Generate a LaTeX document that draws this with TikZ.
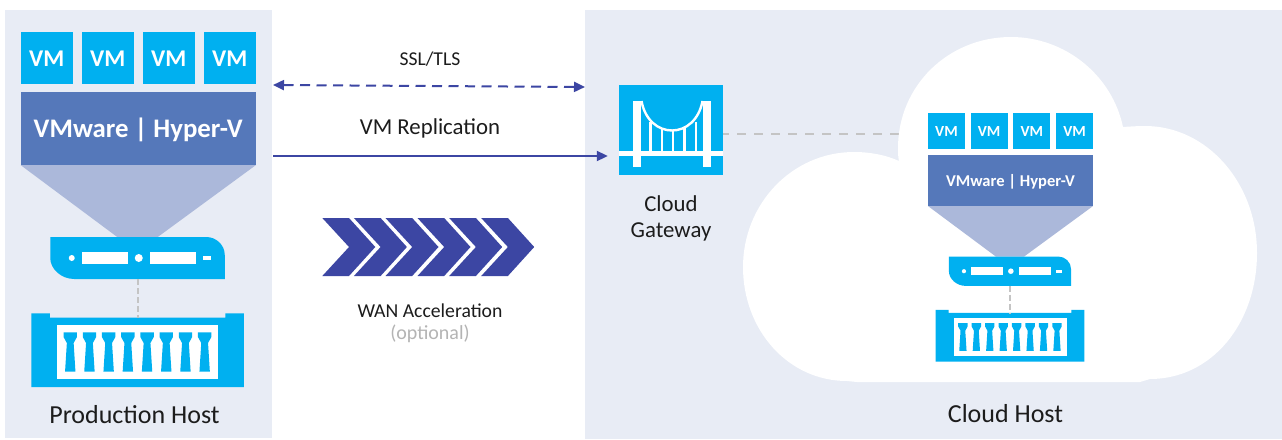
\documentclass[tikz,border=0pt]{standalone}
\usepackage{fontspec}
\setmainfont{Carlito}
\usetikzlibrary{arrows.meta}
\definecolor{panelc}{HTML}{E8ECF5}
\definecolor{vmc}{HTML}{00B0F0}
\definecolor{bandc}{HTML}{5578BA}
\definecolor{conec}{HTML}{ABB8DA}
\definecolor{arrowc}{HTML}{3C46A3}
\definecolor{dashc}{HTML}{C4C4C4}
\definecolor{inkc}{HTML}{1C1C1C}
\definecolor{mutedc}{HTML}{B4B4B4}
\newcommand{\px}[1]{\fontsize{#1}{#1}\selectfont}
\tikzset{
  x=1pt,y=-1pt,
  panel/.style={fill=panelc,draw=none},
  vmbox/.style={fill=vmc,draw=none,minimum width=52.5pt,minimum height=52pt,inner sep=0pt,text=white,font=\bfseries},
  bandbox/.style={fill=bandc,draw=none,minimum width=235.5pt,minimum height=73pt,inner sep=0pt,text=white,font=\bfseries},
  label/.style={text=inkc,inner sep=0pt,align=center},
  hostdash/.style={draw=dashc,line width=2pt,dash pattern=on 6pt off 3pt},
  linkdash/.style={draw=dashc,line width=2.2pt,dash pattern=on 8.6pt off 8.4pt,dash phase=3pt},
  flow/.style={draw=arrowc,line width=2pt,-{Triangle[length=11pt,width=10pt]}},
  flowboth/.style={draw=arrowc,line width=2pt,dash pattern=on 10pt off 6.5pt,{Triangle[length=11pt,width=10pt]}-{Triangle[length=11pt,width=10pt]}},
  blue/.style={fill=vmc,draw=none},
}
% #1 prefix, #2 centre x, #3 top y, #4 scale, #5 VM size, #6 band size
\newcommand{\hoststack}[6]{%
\begin{scope}[shift={(#2,#3)},scale=#4,transform shape]
  \node[vmbox,font=\bfseries\px{#5}] (#1vm1) at (-91.5,26) {\raisebox{-8pt}[0pt][0pt]{VM}};
  \node[vmbox,font=\bfseries\px{#5}] (#1vm2) at (-30.5,26) {\raisebox{-8pt}[0pt][0pt]{VM}};
  \node[vmbox,font=\bfseries\px{#5}] (#1vm3) at (30.5,26) {\raisebox{-8pt}[0pt][0pt]{VM}};
  \node[vmbox,font=\bfseries\px{#5}] (#1vm4) at (91.5,26) {\raisebox{-8pt}[0pt][0pt]{VM}};
  \node[bandbox,font=\bfseries\px{#6}] (#1band) at (0,96.5) {\raisebox{-8.8pt}[0pt][0pt]{VMware | Hyper-V}};
  \fill[conec] (-117.75,133) -- (117.75,133) -- (19.5,205) -- (-21,205) -- cycle;
  \fill[vmc] (-88,205) -- (68,205) .. controls (78,205) and (86.5,213) .. (86.5,223) -- (86.5,247)
     -- (-64,247) .. controls (-77,247) and (-88,237) .. (-88,226) -- cycle;
  \fill[white] (-66.5,226) circle (3);
  \fill[white] (-56.5,220) rectangle (-10.5,232);
  \fill[white] (0.5,226) circle (4);
  \fill[white] (12,220) rectangle (57.8,232);
  \fill[white] (65,223.7) rectangle (73,228.3);
  \coordinate (#1srv) at (-0.5,247);
  \fill[vmc] (-107,281.3) -- (-88.5,281.3) -- (-88.5,285.7) -- (87,285.7) -- (87,281.3) -- (105.5,281.3)
     -- (105.5,355) -- (-107,355) -- cycle;
  \coordinate (#1sto) at (-0.5,285.7);
  \fill[white] (-81,292.7) rectangle (80,347.3);
  \foreach \i in {0,...,7}{
    \fill[vmc,shift={({-68+19.2*\i},0)}] (-6.7,300.3) -- (6.7,300.3) -- (6.7,305) -- (3.4,311) -- (5.2,339.7)
      -- (-5.2,339.7) -- (-3.4,311) -- (-6.7,305) -- cycle;
  }
\end{scope}
\draw[hostdash] (#1srv) -- (#1sto);
}
\begin{document}
\begin{tikzpicture}
\useasboundingbox (0,0) rectangle (1282,439);
\fill[white] (0,0) rectangle (1282,439);
\fill[panel] (5,10) rectangle (272,438);
\fill[panel] (585,10) rectangle (1282,439);

% Gateway and its link (the cloud covers the end of the link)
\node[blue,minimum width=104pt,minimum height=90pt,inner sep=0pt] (gw) at (671,130) {};
\coordinate (cloudlink) at (927,133.7);
\draw[linkdash] (gw.east |- cloudlink) -- (cloudlink);
\begin{scope}[draw=white,fill=white]
  \fill (632.7,101) rectangle (640.7,167);
  \fill (703,101) rectangle (711,167);
  \fill (619.3,151) rectangle (723,156);
  \draw[line width=2.4pt] (641.5,101) .. controls (645,120) and (658,130.5) .. (672,130.5) .. controls (686,130.5) and (699,120) .. (702.5,101);
  \foreach \hx/\hy in {650.5/122,662/128,673/130,684.5/128,696/122}
    \draw[line width=2.4pt] (\hx,\hy) -- (\hx,152);
\end{scope}

% Cloud
\fill[white] (899,161) .. controls (898,157) and (898,152) .. (898,148)
  .. controls (898,86) and (948,37) .. (1011,37)
  .. controls (1065,37) and (1112,75) .. (1123,127)
  .. controls (1130,126.5) and (1138,126) .. (1145,126)
  .. controls (1207,126) and (1257,183) .. (1257,253)
  .. controls (1257,323) and (1212,379) .. (1150,379)
  -- (1140,382) -- (857,382) -- (847,381)
  .. controls (788,381) and (743,330) .. (743,267)
  .. controls (743,204) and (792,152) .. (854,152)
  .. controls (870,152) and (886,155) .. (899,161) -- cycle;

\hoststack{p}{138.25}{32}{1}{24}{26.8}
\hoststack{c}{1010.5}{113}{0.7}{22}{23.6}

% Arrows
\coordinate (tlsA) at (273,85);
\coordinate (tlsB) at (585,87);
\coordinate (repA) at (273,156);
\coordinate (repB) at (gw.west |- repA);
\draw[flowboth] (tlsA) -- (tlsB);
\draw[flow] (repA) -- ([xshift=-11pt]repB);

% Chevrons
\foreach \cx in {322.3,353.9,385.5,417.5,449.2,481.2}
  \fill[arrowc] (\cx,218) -- (\cx+26.7,218) -- (\cx+53,247) -- (\cx+26.7,276) -- (\cx,276) -- (\cx+26.7,247) -- cycle;

% Labels
\node[label,font=\px{19.6}] (tls) at (430,59.5) {SSL/TLS};
\node[label,font=\px{22.8}] (rep) at (430,128) {VM Replication};
\node[label,font=\px{19.7}] (wan) at (430,310.5) {WAN Acceleration};
\node[label,font=\px{20},text=mutedc] (opt) at (430,334) {(optional)};
\node[label,font=\px{26}] (ph) at (134.5,415) {Production Host};
\node[label,font=\px{26}] (ch) at (1005.5,413.5) {Cloud Host};
\node[label,font=\px{22.8}] (gwa) at (671,203.5) {Cloud};
\node[label,font=\px{22.8}] (gwb) at (671,232) {Gateway};
\end{tikzpicture}
\end{document}
